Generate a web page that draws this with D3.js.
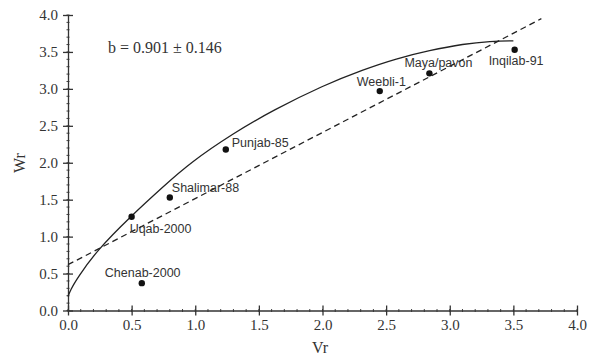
<!DOCTYPE html>
<html lang="en">
<head>
<meta charset="utf-8">
<script src="https://cdn.jsdelivr.net/npm/d3@7"></script>
<style>
    body { margin: 0; background: #fff; }
    .tick text { font-family: "Liberation Serif", serif; font-size: 15px; fill: #333; }
    .axis path, .axis line { stroke: #333; stroke-width: 1.3px; }
    .lbl { font-family: "Liberation Sans", Arial, sans-serif; font-size: 12.5px; fill: #333; }
    .title { font-family: "Liberation Serif", serif; font-size: 16px; fill: #333; }
</style>
</head>
<body>
<script>
    // varieties (Vr, Wr)
    let names = ['Uqab-2000', 'Chenab-2000', 'Shalimar-88', 'Punjab-85', 'Weebli-1', 'Maya/pavon', 'Inqilab-91'];
    let vr = [0.50, 0.58, 0.80, 1.24, 2.45, 2.84, 3.51];
    let wr = [1.27, 0.37, 1.53, 2.18, 2.97, 3.21, 3.53];

    // label offsets (dx, dy) relative to the point
    let labelDx = [-2, -37, 2, 6, -23, -25, -26];
    let labelDy = [16, -6, -5, -2, -5, -6, 15];

    // regression line (dashed)
    let lineX = [0, 3.72];
    let lineY = [0.62, 3.95];

    // limiting parabola
    let curveX = [0, 0.02, 0.073, 0.23, 0.49, 0.75, 0.96, 1.30, 1.61, 2.01, 2.32, 2.58, 2.84, 3.11, 3.32, 3.50];
    let curveY = [0.19, 0.28, 0.44, 0.82, 1.27, 1.68, 2.00, 2.40, 2.71, 3.05, 3.26, 3.41, 3.52, 3.61, 3.645, 3.65];

    let ticks = [0, 0.5, 1, 1.5, 2, 2.5, 3, 3.5, 4];

    let svg = d3.select('body').append('svg')
        .attr('width', 600).attr('height', 355);

    let x = d3.scaleLinear().domain([0, 4]).range([68, 577]);
    let y = d3.scaleLinear().domain([0, 4]).range([310.5, 15]);

    let minor = d3.range(0, 4.0001, 0.1);

    // minor ticks
    svg.append('g').selectAll('line.mx').data(minor).enter().append('line')
        .attr('x1', d => x(d)).attr('x2', d => x(d))
        .attr('y1', y(0) - 1.5).attr('y2', y(0) + 1.5)
        .attr('stroke', '#444').attr('stroke-width', 1);
    svg.append('g').selectAll('line.my').data(minor).enter().append('line')
        .attr('y1', d => y(d)).attr('y2', d => y(d))
        .attr('x1', x(0) - 1.5).attr('x2', x(0) + 1.5)
        .attr('stroke', '#444').attr('stroke-width', 1);

    let xAxis = svg.append('g').attr('class', 'axis')
        .attr('transform', 'translate(0,' + y(0) + ')')
        .call(d3.axisBottom(x).tickValues(ticks).tickFormat(d3.format('.1f'))
            .tickSizeInner(5).tickSizeOuter(0).tickPadding(4));
    xAxis.selectAll('.tick line').attr('y1', -5);

    let yAxis = svg.append('g').attr('class', 'axis')
        .attr('transform', 'translate(' + x(0) + ',0)')
        .call(d3.axisLeft(y).tickValues(ticks).tickFormat(d3.format('.1f'))
            .tickSizeInner(5).tickSizeOuter(0).tickPadding(5));
    yAxis.selectAll('.tick line').attr('x1', 5);

    // dashed regression line
    svg.append('line')
        .attr('x1', x(lineX[0])).attr('y1', y(lineY[0]))
        .attr('x2', x(lineX[1])).attr('y2', y(lineY[1]))
        .attr('stroke', '#222').attr('stroke-width', 1.3)
        .attr('stroke-dasharray', '6,4');

    // curve
    let pts = curveX.map((d, i) => [d, curveY[i]]);
    svg.append('path')
        .attr('d', d3.line().x(d => x(d[0])).y(d => y(d[1])).curve(d3.curveBasis)(pts))
        .attr('fill', 'none').attr('stroke', '#222').attr('stroke-width', 1.3);

    // points + labels
    let data = names.map((n, i) => ({name: n, vr: vr[i], wr: wr[i], dx: labelDx[i], dy: labelDy[i]}));
    svg.append('g').selectAll('circle').data(data).enter().append('circle')
        .attr('cx', d => x(d.vr)).attr('cy', d => y(d.wr)).attr('r', 3.2).attr('fill', '#111');
    svg.append('g').selectAll('text').data(data).enter().append('text')
        .attr('class', 'lbl')
        .attr('x', d => x(d.vr) + d.dx).attr('y', d => y(d.wr) + d.dy)
        .text(d => d.name);

    svg.append('text').attr('class', 'title')
        .attr('x', 108).attr('y', 53).text('b = 0.901 ± 0.146');

    svg.append('text').attr('class', 'title')
        .attr('x', 320).attr('y', 353).attr('text-anchor', 'middle').text('Vr');
    svg.append('text').attr('class', 'title')
        .attr('transform', 'translate(25,163) rotate(-90)')
        .attr('text-anchor', 'middle').text('Wr');
</script>
</body>
</html>
